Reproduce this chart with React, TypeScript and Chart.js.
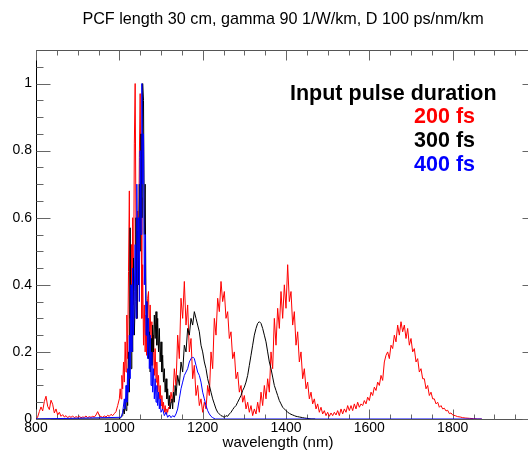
import React, { useEffect, useRef } from "react";
import { Chart, registerables } from "chart.js";

Chart.register(...registerables);

const TITLE = "PCF length 30 cm, gamma 90 1/W/km, D 100 ps/nm/km";
const X_LABEL = "wavelength (nm)";
const LEGEND_HEADER = "Input pulse duration";
const seriesNames = ["200 fs", "300 fs", "400 fs"];
const seriesColors = ["#ff0000", "#000000", "#0000ff"];

const xMajorTicks = [800, 1000, 1200, 1400, 1600, 1800, 2000];
const xTickLabels = ["800", "1000", "1200", "1400", "1600", "1800", ""];
const yMajorTicks = [0, 0.2, 0.4, 0.6, 0.8, 1.0];
const yTickLabels = ["0", "0.2", "0.4", "0.6", "0.8", "1"];
const xMinorTicks = [850, 900, 950, 1050, 1100, 1150, 1250, 1300, 1350, 1450, 1500, 1550, 1650, 1700, 1750, 1850, 1900, 1950];
const yMinorTicks = [0.05, 0.1, 0.15, 0.25, 0.3, 0.35, 0.45, 0.5, 0.55, 0.65, 0.7, 0.75, 0.85, 0.9, 0.95, 1.05];

// 200 fs (red)
const redWavelength = [
  800, 804, 808, 812, 816, 820, 824, 828, 832, 836, 840, 844, 848, 852, 856, 860, 864, 868, 872, 876,
  880, 884, 888, 892, 896, 900, 904, 908, 912, 916, 920, 924, 928, 932, 936, 940, 944, 948, 952, 956,
  960, 964, 968, 972, 976, 980, 984, 988, 992, 996,
  1000, 1002, 1004, 1006, 1008, 1010, 1012, 1014, 1016, 1018, 1020, 1022, 1024, 1026, 1028, 1030, 1032, 1034, 1036, 1038,
  1040, 1042, 1044, 1046, 1048, 1050, 1052, 1054, 1056, 1058, 1060, 1062, 1064, 1066, 1068, 1070, 1072, 1074, 1076, 1078,
  1080, 1082, 1084, 1086, 1088, 1090, 1092, 1094, 1096, 1098, 1100, 1102, 1104, 1106, 1108, 1110, 1112, 1114, 1116, 1118,
  1120, 1124, 1128, 1132, 1136, 1140, 1144, 1148, 1152, 1156, 1160, 1164, 1168, 1172, 1176, 1180, 1184, 1188, 1192, 1196,
  1200, 1204, 1208, 1212, 1216, 1220, 1224, 1228, 1232, 1236, 1240, 1244, 1248, 1252, 1256, 1260, 1264, 1268, 1272, 1276,
  1280, 1284, 1288, 1292, 1296, 1300, 1304, 1308, 1312, 1316, 1320, 1324, 1328, 1332, 1336, 1340, 1344, 1348, 1352, 1356,
  1360, 1364, 1368, 1372, 1376, 1380, 1384, 1388, 1392, 1396, 1400, 1404, 1408, 1412, 1416, 1420, 1424, 1428, 1432, 1436,
  1440, 1444, 1448, 1452, 1456, 1460, 1464, 1468, 1472, 1476, 1480, 1484, 1488, 1492, 1496, 1500, 1504, 1508, 1512, 1516,
  1520, 1524, 1528, 1532, 1536, 1540, 1544, 1548, 1552, 1556, 1560, 1564, 1568, 1572, 1576, 1580, 1584, 1588, 1592, 1596,
  1600, 1604, 1608, 1612, 1616, 1620, 1624, 1628, 1632, 1636, 1640, 1644, 1648, 1652, 1656, 1660, 1664, 1668, 1672, 1676,
  1680, 1684, 1688, 1692, 1696, 1700, 1704, 1708, 1712, 1716, 1720, 1724, 1728, 1732, 1736, 1740, 1744, 1748, 1752, 1756,
  1760, 1764, 1768, 1772, 1776, 1780, 1784, 1788, 1792, 1796, 1800, 1806, 1812, 1818, 1824, 1830, 1840, 1850, 1860, 1870,
];
const redIntensity = [
  0.000, 0.006, 0.022, 0.036, 0.024, 0.052, 0.068, 0.038, 0.028, 0.056, 0.044, 0.018, 0.030, 0.012, 0.020, 0.008, 0.013, 0.006, 0.010, 0.004,
  0.008, 0.005, 0.009, 0.004, 0.007, 0.005, 0.008, 0.004, 0.006, 0.005, 0.009, 0.004, 0.007, 0.005, 0.008, 0.006, 0.012, 0.022, 0.010, 0.007,
  0.005, 0.009, 0.006, 0.011, 0.008, 0.014, 0.010, 0.016, 0.022, 0.040,
  0.06, 0.09, 0.06, 0.13, 0.09, 0.17, 0.11, 0.23, 0.14, 0.31, 0.18, 0.44, 0.68, 0.30, 0.52, 0.24, 0.60, 0.34, 0.82, 1.00,
  0.55, 0.30, 0.62, 0.40, 0.78, 0.97, 0.66, 0.30, 0.46, 0.22, 0.34, 0.20, 0.31, 0.19, 0.36, 0.38, 0.25, 0.34, 0.21, 0.29,
  0.16, 0.25, 0.13, 0.21, 0.11, 0.17, 0.08, 0.13, 0.06, 0.10, 0.04, 0.07, 0.03, 0.05, 0.02, 0.04, 0.015, 0.03, 0.02, 0.035,
  0.03, 0.08, 0.05, 0.15, 0.10, 0.25, 0.18, 0.36, 0.30, 0.41, 0.28, 0.34, 0.20, 0.24, 0.12, 0.16, 0.07, 0.10, 0.04, 0.06,
  0.02, 0.05, 0.03, 0.10, 0.07, 0.20, 0.15, 0.30, 0.25, 0.36, 0.32, 0.41, 0.35, 0.38, 0.30, 0.32, 0.24, 0.26, 0.18, 0.20,
  0.12, 0.14, 0.08, 0.10, 0.05, 0.07, 0.03, 0.05, 0.02, 0.04, 0.01, 0.03, 0.015, 0.05, 0.02, 0.08, 0.04, 0.10, 0.06, 0.12,
  0.08, 0.20, 0.15, 0.30, 0.22, 0.33, 0.27, 0.38, 0.30, 0.40, 0.33, 0.46, 0.35, 0.38, 0.28, 0.32, 0.22, 0.26, 0.17, 0.20,
  0.12, 0.15, 0.09, 0.11, 0.06, 0.08, 0.045, 0.06, 0.03, 0.045, 0.02, 0.035, 0.015, 0.025, 0.01, 0.02, 0.008, 0.018, 0.01, 0.02,
  0.012, 0.025, 0.01, 0.03, 0.015, 0.03, 0.02, 0.04, 0.025, 0.04, 0.025, 0.045, 0.03, 0.05, 0.035, 0.045, 0.04, 0.055, 0.045, 0.065,
  0.055, 0.08, 0.07, 0.095, 0.085, 0.11, 0.10, 0.13, 0.115, 0.17, 0.19, 0.20, 0.18, 0.22, 0.21, 0.25, 0.23, 0.28, 0.25, 0.29,
  0.26, 0.28, 0.24, 0.27, 0.22, 0.24, 0.20, 0.21, 0.17, 0.18, 0.14, 0.15, 0.12, 0.12, 0.09, 0.10, 0.07, 0.08, 0.06, 0.06,
  0.045, 0.05, 0.035, 0.04, 0.03, 0.032, 0.024, 0.026, 0.016, 0.018, 0.012, 0.010, 0.007, 0.006, 0.004, 0.003, 0.002, 0.001, 0.000, 0.000,
];

// 300 fs (black)
const blackWavelength = [
  800, 1000, 1004, 1008, 1010, 1012, 1014, 1016, 1018, 1020, 1022, 1024, 1026, 1028, 1030, 1032, 1034, 1036, 1038, 1040,
  1042, 1044, 1046, 1048, 1050, 1052, 1054, 1056, 1058, 1060, 1062, 1064, 1066, 1068, 1070, 1072, 1074, 1076, 1078, 1080,
  1082, 1084, 1086, 1088, 1090, 1092, 1094, 1096, 1098, 1100, 1102, 1104, 1106, 1108, 1110, 1112, 1114, 1116, 1118, 1120,
  1122, 1124, 1126, 1128, 1130, 1132, 1134, 1136, 1140, 1144, 1148, 1152, 1156, 1160, 1164, 1168, 1172, 1176, 1180, 1184,
  1188, 1192, 1196, 1200, 1204, 1208, 1212, 1216, 1220, 1224, 1228, 1232, 1236, 1240, 1244, 1248, 1252, 1256, 1260, 1264,
  1268, 1272, 1276, 1280, 1284, 1288, 1292, 1296, 1300, 1304, 1308, 1312, 1316, 1320, 1324, 1328, 1332, 1336, 1340, 1344,
  1348, 1352, 1356, 1360, 1364, 1368, 1372, 1376, 1380, 1384, 1388, 1392, 1396, 1400, 1404, 1408, 1412, 1416, 1420, 1424,
  1428, 1432, 1436, 1440, 1444, 1450, 1460, 1470,
];
const blackIntensity = [
  0, 0, 0.005, 0.01, 0.03, 0.015, 0.05, 0.025, 0.10, 0.04, 0.20, 0.08, 0.57, 0.15, 0.40, 0.20, 0.48, 0.25, 0.35, 0.60,
  0.30, 0.56, 0.40, 0.70, 0.50, 0.85, 0.60, 1.00, 0.95, 0.55, 0.70, 0.35, 0.25, 0.30, 0.18, 0.26, 0.14, 0.24, 0.16, 0.28,
  0.20, 0.31, 0.24, 0.32, 0.22, 0.30, 0.20, 0.27, 0.17, 0.23, 0.14, 0.19, 0.11, 0.15, 0.08, 0.12, 0.06, 0.09, 0.04, 0.07,
  0.03, 0.05, 0.06, 0.03, 0.08, 0.05, 0.10, 0.07, 0.13, 0.10, 0.17, 0.14, 0.22, 0.20, 0.27, 0.25, 0.30, 0.28, 0.32, 0.30,
  0.28, 0.26, 0.22, 0.20, 0.17, 0.15, 0.12, 0.10, 0.08, 0.06, 0.045, 0.03, 0.02, 0.015, 0.01, 0.008, 0.005, 0.01, 0.008, 0.015,
  0.02, 0.028, 0.035, 0.04, 0.05, 0.06, 0.07, 0.085, 0.095, 0.11, 0.13, 0.16, 0.19, 0.22, 0.25, 0.27, 0.285, 0.29, 0.285, 0.27,
  0.25, 0.23, 0.20, 0.17, 0.15, 0.125, 0.10, 0.085, 0.07, 0.055, 0.045, 0.035, 0.03, 0.025, 0.02, 0.017, 0.014, 0.012, 0.01, 0.008,
  0.007, 0.006, 0.005, 0.004, 0.003, 0.002, 0, 0,
];

// 400 fs (blue)
const blueWavelength = [
  800, 1004, 1008, 1012, 1014, 1016, 1018, 1020, 1022, 1024, 1026, 1028, 1030, 1032, 1034, 1036, 1038, 1040, 1042, 1044,
  1046, 1048, 1050, 1052, 1054, 1056, 1058, 1060, 1062, 1064, 1066, 1068, 1070, 1072, 1074, 1076, 1078, 1080, 1082, 1084,
  1086, 1088, 1090, 1092, 1094, 1096, 1098, 1100, 1104, 1108, 1112, 1116, 1120, 1124, 1128, 1132, 1136, 1140, 1144, 1148,
  1152, 1156, 1160, 1164, 1168, 1172, 1176, 1180, 1184, 1188, 1192, 1196, 1200, 1204, 1208, 1212, 1216, 1220, 1224, 1230,
  1870,
];
const blueIntensity = [
  0, 0.005, 0.02, 0.06, 0.03, 0.10, 0.05, 0.15, 0.08, 0.25, 0.12, 0.40, 0.20, 0.45, 0.25, 0.38, 0.52, 0.30, 0.70, 0.40,
  0.60, 0.35, 0.80, 0.55, 1.00, 0.70, 0.85, 0.40, 0.55, 0.25, 0.35, 0.18, 0.30, 0.15, 0.25, 0.10, 0.20, 0.08, 0.15, 0.06,
  0.12, 0.05, 0.10, 0.04, 0.08, 0.03, 0.06, 0.02, 0.03, 0.01, 0.02, 0.005, 0.012, 0.004, 0.01, 0.006, 0.015, 0.03, 0.06, 0.09,
  0.11, 0.13, 0.14, 0.15, 0.17, 0.18, 0.185, 0.18, 0.16, 0.14, 0.13, 0.11, 0.08, 0.06, 0.04, 0.025, 0.015, 0.008, 0.004, 0,
  0,
];

const FONT = "'Liberation Sans', Arial, Helvetica, sans-serif";

const framePlugin = {
  id: "idlFrame",
  beforeDatasetsDraw(chart: any) {
    const { ctx, chartArea: a, scales } = chart;
    const xs = scales.x;
    const ys = scales.y;
    const L = Math.round(a.left) + 0.5;
    const R = Math.round(a.right) + 0.5;
    const T = Math.round(a.top) + 0.5;
    const B = Math.round(a.bottom) + 0.5;
    ctx.save();
    ctx.lineWidth = 1;
    ctx.strokeStyle = "#555";
    ctx.beginPath();
    ctx.moveTo(L, T); ctx.lineTo(R, T);
    ctx.moveTo(L, B); ctx.lineTo(R, B);
    ctx.moveTo(R, T); ctx.lineTo(R, B);
    ctx.stroke();
    ctx.strokeStyle = "#000";
    ctx.beginPath();
    ctx.moveTo(L, T); ctx.lineTo(L, B);
    ctx.stroke();
    ctx.strokeStyle = "#666";
    ctx.beginPath();
    const xt = (v: number, len: number) => {
      const p = Math.round(xs.getPixelForValue(v)) + 0.5;
      ctx.moveTo(p, B); ctx.lineTo(p, B - len);
      ctx.moveTo(p, T); ctx.lineTo(p, T + len);
    };
    const yt = (v: number, len: number) => {
      const p = Math.round(ys.getPixelForValue(v)) + 0.5;
      ctx.moveTo(L, p); ctx.lineTo(L + len, p);
      ctx.moveTo(R, p); ctx.lineTo(R - len, p);
    };
    xMajorTicks.forEach((v) => xt(v, 10));
    xMinorTicks.forEach((v) => xt(v, 5));
    yMajorTicks.forEach((v) => yt(v, 14));
    yMinorTicks.forEach((v) => yt(v, 7));
    ctx.stroke();
    ctx.restore();
  },
  afterDraw(chart: any) {
    const { ctx, chartArea: a, scales } = chart;
    const xs = scales.x;
    const ys = scales.y;
    ctx.save();
    ctx.fillStyle = "#000";
    ctx.font = `14px ${FONT}`;
    ctx.textAlign = "right";
    ctx.textBaseline = "middle";
    yMajorTicks.forEach((v, i) => {
      ctx.fillText(yTickLabels[i], a.left - 4, ys.getPixelForValue(v));
    });
    ctx.textAlign = "center";
    ctx.textBaseline = "top";
    xMajorTicks.forEach((v, i) => {
      if (xTickLabels[i]) ctx.fillText(xTickLabels[i], xs.getPixelForValue(v), a.bottom + 2);
    });
    ctx.font = `15px ${FONT}`;
    ctx.textBaseline = "middle";
    ctx.fillText(X_LABEL, 278, 443);
    ctx.font = `16.2px ${FONT}`;
    ctx.fillText(TITLE, 283, 20);
    ctx.font = `bold 21.5px ${FONT}`;
    ctx.textAlign = "left";
    ctx.textBaseline = "alphabetic";
    ctx.fillText(LEGEND_HEADER, 290, 100);
    ctx.textAlign = "right";
    const baselines = [123, 147, 171];
    seriesNames.forEach((n, i) => {
      ctx.fillStyle = seriesColors[i];
      ctx.fillText(n, 475, baselines[i]);
    });
    ctx.restore();
  },
};

function toPoints(xs: number[], ys: number[]) {
  return xs.map((x, i) => ({ x, y: ys[i] }));
}

export default function App() {
  const ref = useRef<HTMLCanvasElement | null>(null);
  useEffect(() => {
    if (!ref.current) return;
    const chart = new Chart(ref.current, {
      type: "line",
      data: {
        datasets: [
          {
            label: seriesNames[0],
            data: toPoints(redWavelength, redIntensity),
            borderColor: seriesColors[0],
            borderWidth: 1,
            pointRadius: 0,
            order: 3,
          },
          {
            label: seriesNames[1],
            data: toPoints(blackWavelength, blackIntensity),
            borderColor: seriesColors[1],
            borderWidth: 1,
            pointRadius: 0,
            order: 2,
          },
          {
            label: seriesNames[2],
            data: toPoints(blueWavelength, blueIntensity),
            borderColor: seriesColors[2],
            borderWidth: 1,
            pointRadius: 0,
            order: 1,
          },
        ],
      },
      options: {
        responsive: false,
        animation: false,
        layout: { padding: { left: 36, right: 10, top: 50, bottom: 31 } },
        plugins: { legend: { display: false }, tooltip: { enabled: false }, title: { display: false } },
        scales: {
          x: { type: "linear", min: 800, max: 2000, display: false },
          y: { type: "linear", min: 0, max: 1.1, display: false },
        },
        elements: { line: { tension: 0 } },
      },
      plugins: [framePlugin],
    });
    return () => chart.destroy();
  }, []);
  return (
    <div style={{ position: "absolute", left: 0, top: 0, width: 528, height: 450, overflow: "hidden", background: "#fff" }}>
      <canvas ref={ref} width={546} height={450} style={{ display: "block", width: 546, height: 450 }} />
    </div>
  );
}
